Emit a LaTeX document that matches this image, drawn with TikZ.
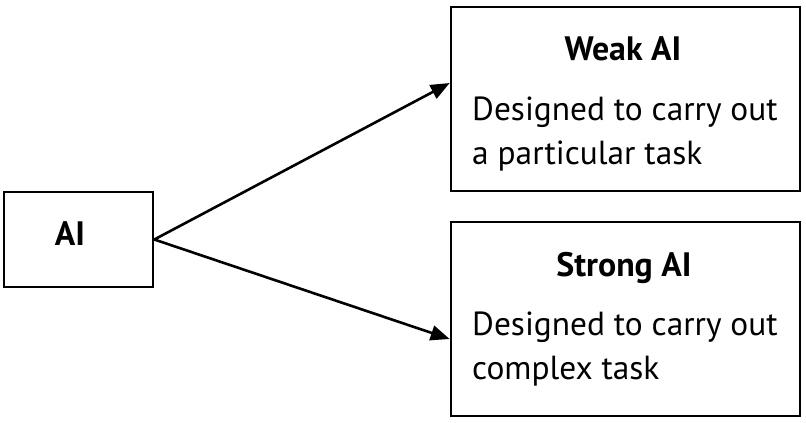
\documentclass[tikz,border=0pt]{standalone}
\usepackage{fontspec}
\setmainfont{PT Sans}
\usetikzlibrary{arrows.meta}

\tikzset{
  box/.style={draw, line width=2.6bp, inner sep=0pt},
  title/.style={anchor=base, inner sep=0pt, font=\fontsize{34}{40}\bfseries\selectfont},
  desc/.style={anchor=base west, align=left, inner sep=0pt, font=\fontsize{33.5}{44}\selectfont},
  link/.style={line width=2.6bp, -{Triangle[length=19bp,width=15bp]}}
}

\begin{document}
\begin{tikzpicture}[x=1bp,y=-1bp]
  \useasboundingbox (0,0) rectangle (806,422);

  % Boxes
  \node[box, minimum width=149bp, minimum height=95bp] (ai) at (78.5,239.5) {};
  \node[box, minimum width=349bp, minimum height=184bp] (weak) at (625.5,99) {};
  \node[box, minimum width=349bp, minimum height=194bp] (strong) at (625.5,319) {};

  % Texts (desc anchor sits on the last line)
  \node[title] (aitext) at (70,245) {AI};
  \node[title] (weaktitle) at (623,60) {Weak AI};
  \node[desc] (weakdesc) at (472,164) {Designed to carry out\\a particular task};
  \node[title] (strongtitle) at (624,276) {Strong AI};
  \node[desc] (strongdesc) at (472,379) {Designed to carry out\\complex task};

  % Arrows
  \draw[link] (ai.east) -- ([yshift=16bp]weak.west);
  \draw[link] (ai.east) -- ([yshift=-20bp]strong.west);
\end{tikzpicture}
\end{document}
